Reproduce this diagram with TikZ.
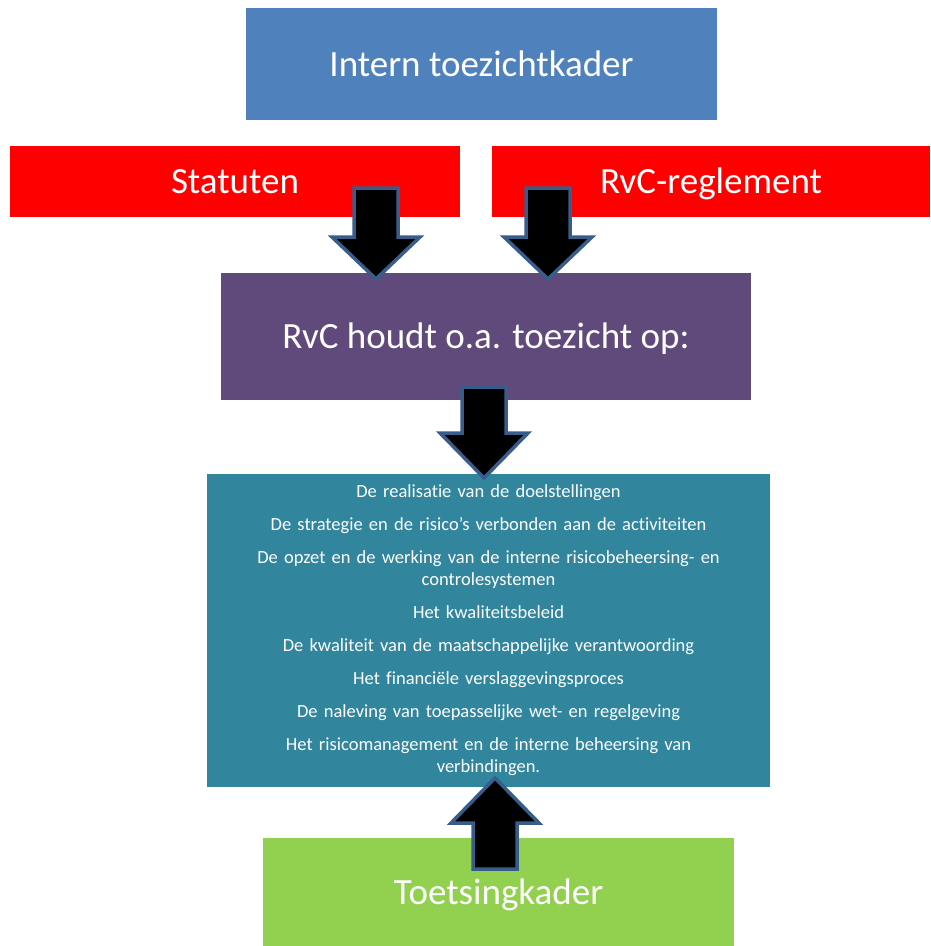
\documentclass[tikz,border=0pt]{standalone}
\usepackage{fontspec}
\setmainfont{Carlito}[Ligatures={NoCommon,NoContextual,NoRare},RawFeature={-liga;-clig;-calt;-dlig}]
\definecolor{cblue}{HTML}{4F81BD}
\definecolor{cred}{HTML}{FF0000}
\definecolor{cpurple}{HTML}{604A7B}
\definecolor{cteal}{HTML}{31859C}
\definecolor{cgreen}{HTML}{92D050}
\definecolor{cedge}{HTML}{385D8A}
\tikzset{
  box/.style={draw=none, inner sep=0pt, text=white, align=center},
  bigtext/.style={font=\fontsize{37}{44}\selectfont, text height=30pt, text depth=6pt},
  barrow/.style={fill=black, draw=cedge, line width=3.5pt, line join=miter},
}
% block arrow: #1 cx, #2 tail end, #3 head base, #4 tip
\newcommand\blockarr[4]{%
  \draw[barrow] (#1-22,#2) -- (#1+22,#2) -- (#1+22,#3) -- (#1+44,#3) -- (#1,#4) -- (#1-44,#3) -- (#1-22,#3) -- cycle;}
\newcommand\nl{\kern0pt}
\begin{document}
\begin{tikzpicture}[x=1pt,y=-1pt]
\useasboundingbox (0,0) rectangle (930,946);
\fill[white] (0,0) rectangle (930,946);
% boxes
\node[box, bigtext, fill=cblue, minimum width=471pt, minimum height=112pt] (itk) at (481.5,64) {Intern toezichtkader};
\node[box, bigtext, fill=cred, minimum width=450pt, minimum height=71pt] (stat) at (235,181.5) {Statuten};
\node[box, bigtext, fill=cred, minimum width=438pt, minimum height=71pt] (regl) at (711,181.5) {RvC-reglement};
\node[box, bigtext, fill=cpurple, minimum width=530pt, minimum height=127pt] (rvc) at (486,336.5) {RvC houdt o.a. toezicht op:};
\node[box, fill=cteal, minimum width=563pt, minimum height=313pt, text width=563pt, font=\fontsize{18.5}{22}\selectfont] (list) at (488.5,630.5) {De realisat\nl ie van de doelstellingen\\[11pt]
De strategie en de risico’s verbonden aan de act\nl iviteiten\\[11pt]
De opzet en de werking van de interne risicobeheersing- en\\ controlesystemen\\[11pt]
Het kwaliteitsbeleid\\[11pt]
De kwaliteit van de maatschappelijke verantwoording\\[11pt]
Het financiële verslaggevingsproces\\[11pt]
De naleving van toepasselijke wet- en regelgeving\\[11pt]
Het risicomanagement en de interne beheersing van\\ verbindingen.};
\node[box, bigtext, fill=cgreen, minimum width=471pt, minimum height=108pt] (toets) at (498.5,892) {Toetsingkader};
% block arrows
\blockarr{376}{188}{237}{279}
\blockarr{548}{188}{237}{279}
\blockarr{484}{387}{433}{478}
\blockarr{495}{869}{823}{778}
\end{tikzpicture}
\end{document}
